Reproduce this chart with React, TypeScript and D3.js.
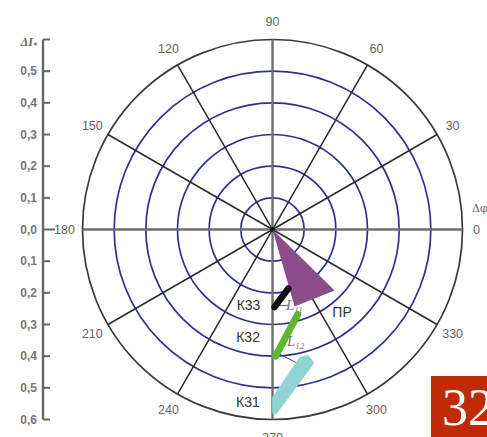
import React from 'react';
import * as d3 from 'd3';

// polar grid
const ringValues = [0.1, 0.2, 0.3, 0.4, 0.5];
const outerValue = 0.6;
const spokeAngles = [30, 60, 120, 150, 210, 240, 300, 330];
const axisAngles = [0, 90, 180, 270];
const angleLabels = ['0', '30', '60', '90', '120', '150', '180', '210', '240', '270', '300', '330'];
const angleLabelValues = [0, 30, 60, 90, 120, 150, 180, 210, 240, 270, 300, 330];

// left scale
const axisValues = [0.5, 0.4, 0.3, 0.2, 0.1, 0, -0.1, -0.2, -0.3, -0.4, -0.5, -0.6];

// marks: [angle deg, value]
const prSector = [[0, 0], [315.5, 0.275], [286, 0.253]];
const k33Bar = [[271.5, 0.245], [285, 0.193]];
const k32Bar = [[271.4, 0.4], [286.5, 0.28]];
const k31Shape = [[270.2, 0.579], [270.2, 0.532], [282.1, 0.415], [285.7, 0.415], [286.9, 0.441], [271.1, 0.58]];
const l11Line = [[272.5, 0.24], [282, 0.245]];
const l12Line = [[271.9, 0.389], [280.6, 0.43]];

const markLabels = ['К33', 'К32', 'К31', 'ПР'];
const markLabelPos = [[252.3, 0.249], [257.2, 0.348], [261.9, 0.55], [310.1, 0.341]];

const W = 487;
const H = 437;
const cx = 272.5;
const cy = 229.5;
const R = 190;

const App = () => {
    const r = d3.scaleLinear().domain([0, outerValue]).range([0, R]);
    const y = d3.scaleLinear().domain([-outerValue, outerValue]).range([cy + R, cy - R]);

    const pt = (a: number, v: number): [number, number] => {
        const t = (a * Math.PI) / 180;
        return [cx + r(v) * Math.cos(t), cy - r(v) * Math.sin(t)];
    };
    const line = d3.line();
    const path = (pts: number[][], closed = false) =>
        line(pts.map((p) => pt(p[0], p[1]))) + (closed ? 'Z' : '');

    const fmt = (v: number) => Math.abs(v).toFixed(1).replace('.', ',');
    const font = 'Liberation Sans, Arial, sans-serif';

    return (
        <svg width={W} height={H} style={{ position: 'absolute', left: 0, top: 0, background: '#fff' }}>
            {/* rings */}
            {ringValues.map((v) => (
                <circle key={v} cx={cx} cy={cy} r={r(v)} fill="none" stroke="#2e3192" strokeWidth={1.7} />
            ))}
            <circle cx={cx} cy={cy} r={r(outerValue)} fill="none" stroke="#3a3a3a" strokeWidth={1.7} />

            {/* spokes */}
            {spokeAngles.map((a) => {
                const [x, yy] = pt(a, outerValue);
                return <line key={a} x1={cx} y1={cy} x2={x} y2={yy} stroke="#2a2a2a" strokeWidth={1.5} />;
            })}
            {axisAngles.map((a) => {
                const [x, yy] = pt(a, outerValue);
                return <line key={a} x1={cx} y1={cy} x2={x} y2={yy} stroke="#6e6e6e" strokeWidth={2.4} />;
            })}
            <circle cx={cx} cy={cy} r={2.5} fill="#111" />

            {/* angle labels */}
            {angleLabelValues.map((a, i) => {
                const t = (a * Math.PI) / 180;
                const rr = a === 0 ? 204 : 208;
                return (
                    <text key={a} x={cx + rr * Math.cos(t)} y={cy - rr * Math.sin(t)} textAnchor="middle"
                        dominantBaseline="central" fontFamily={font} fontSize={12.5} fill="#6a625c">
                        {angleLabels[i]}
                    </text>
                );
            })}
            <text x={472} y={212} fontFamily="DejaVu Serif, serif" fontSize={11} fill="#6a625c">Δφ</text>

            {/* marks */}
            <path d={path(prSector, true)} fill="#8c4c89" />
            <path d={path(l11Line)} stroke="#555" strokeWidth={1} fill="none" />
            <path d={path(l12Line)} stroke="#555" strokeWidth={1} fill="none" />
            <path d={path(k33Bar)} stroke="#111" strokeWidth={6.5} fill="none" strokeLinecap="round" />
            <path d={path(k32Bar)} stroke="#5cb737" strokeWidth={7} fill="none" strokeLinecap="round" />
            <path d={path(k31Shape, true)} fill="#8fd4d2" stroke="#8fd4d2" strokeWidth={2} strokeLinejoin="round" />

            {markLabels.map((s, i) => {
                const [x, yy] = pt(markLabelPos[i][0], markLabelPos[i][1]);
                return (
                    <text key={s} x={x} y={yy} textAnchor="middle" dominantBaseline="central"
                        fontFamily={font} fontSize={14} fill="#333">
                        {s}
                    </text>
                );
            })}
            <text x={286} y={310} fontFamily="Liberation Serif, serif" fontStyle="italic" fontSize={15} fill="#777">
                L<tspan fontSize={9} dy={3}>11</tspan>
            </text>
            <text x={287} y={346} fontFamily="Liberation Serif, serif" fontStyle="italic" fontSize={15} fill="#777">
                L<tspan fontSize={9} dy={3}>12</tspan>
            </text>

            {/* left axis */}
            <line x1={43} y1={y(outerValue)} x2={43} y2={y(-outerValue)} stroke="#666" strokeWidth={2.4} />
            <line x1={43} y1={y(outerValue)} x2={50} y2={y(outerValue)} stroke="#666" strokeWidth={2} />
            {axisValues.map((v) => (
                <g key={v}>
                    <line x1={43} y1={y(v)} x2={v === 0 ? 55 : 50} y2={y(v)} stroke="#666" strokeWidth={2} />
                    <text x={37} y={y(v)} textAnchor="end" dominantBaseline="central" fontFamily={font}
                        fontSize={12} fontWeight="bold" fill="#777">
                        {fmt(v)}
                    </text>
                </g>
            ))}
            <text x={37} y={y(outerValue) + 2} textAnchor="end" dominantBaseline="central"
                fontFamily="Liberation Serif, serif" fontStyle="italic" fontWeight="bold" fontSize={12} fill="#666">
                ΔI<tspan fontSize={8} dy={3}>*</tspan>
            </text>

            {/* page badge */}
            <rect x={431} y={376} width={60} height={65} fill="#bf2a08" />
            <text x={442} y={425} fontFamily="Liberation Serif, serif" fontSize={52} fill="#fff">32</text>
        </svg>
    );
};

export default App;
